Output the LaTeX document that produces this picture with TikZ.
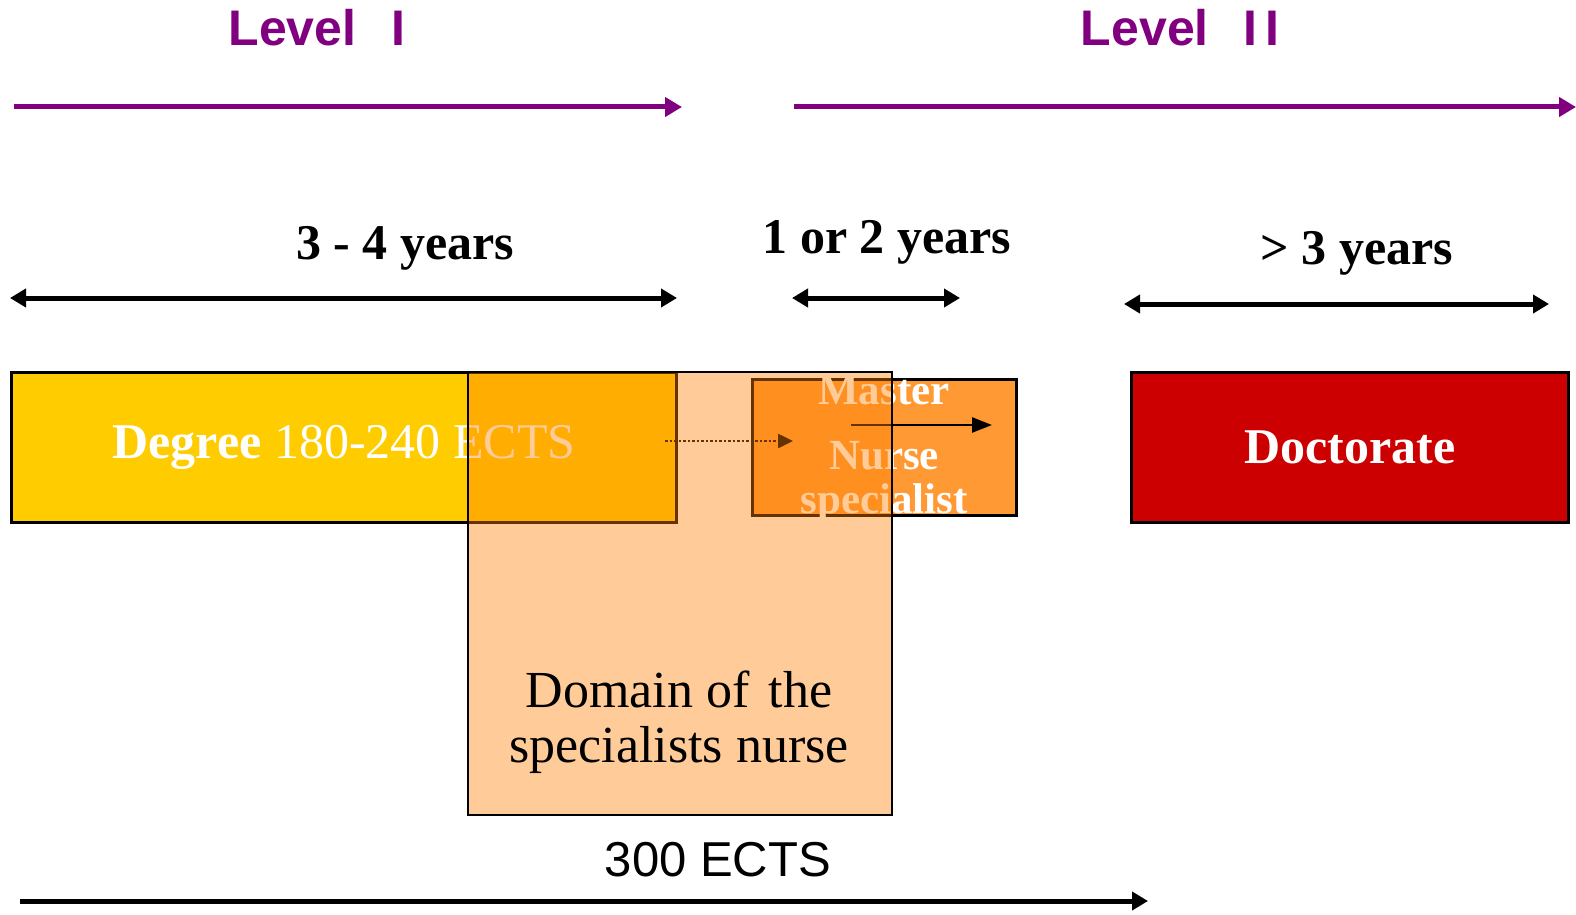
\documentclass[tikz,border=0pt]{standalone}
\usepackage{fontspec}
\setmainfont{Liberation Serif}
\setsansfont{Liberation Sans}
\usetikzlibrary{arrows.meta}
\definecolor{levelpurple}{RGB}{128,0,128}
\definecolor{degreeyellow}{RGB}{255,204,0}
\definecolor{masterorange}{RGB}{255,153,51}
\definecolor{domainorange}{RGB}{255,128,0}
\definecolor{doctorred}{RGB}{204,0,0}
\tikzstyle{every node}=[inner sep=0pt]
\tikzstyle{level}=[font=\sffamily\bfseries\fontsize{50}{54}\selectfont,text=levelpurple]
\tikzstyle{span}=[font=\bfseries\fontsize{50}{54}\selectfont]
\tikzstyle{stage}=[draw=black,line width=3pt,anchor=north west,text=white,font=\fontsize{50}{54}\selectfont]
\tikzstyle{mastertext}=[text=white,font=\bfseries\fontsize{43}{44}\selectfont,align=center]
\tikzstyle{levelarrow}=[draw=levelpurple,line width=5pt,-{Triangle[length=17pt,width=19pt]}]
\tikzstyle{yeararrow}=[line width=5pt,{Triangle[length=16pt,width=18pt]}-{Triangle[length=16pt,width=18pt]}]
\tikzstyle{ectsarrow}=[line width=5pt,-{Triangle[length=16pt,width=18pt]}]

\begin{document}
\begin{tikzpicture}[x=1pt,y=-1pt]
\useasboundingbox (0,0) rectangle (1576,915);
\coordinate (levelIstart) at (14,107);
\coordinate (levelIend) at (682,107);
\coordinate (levelIIstart) at (794,107);
\coordinate (levelIIend) at (1576,107);
\coordinate (degreeleft) at (10,298);
\coordinate (degreeright) at (677,298);
\coordinate (masterleft) at (792,298);
\coordinate (masterright) at (960,298);
\coordinate (doctorleft) at (1124,304);
\coordinate (doctorright) at (1549,304);
\coordinate (ectsstart) at (20,901);
\coordinate (ectsend) at (1148,901);
\coordinate (dotstart) at (665,441);
\coordinate (dotend) at (793,441);
\coordinate (pathstart) at (851,425);
\coordinate (pathend) at (992,425);

\node[level] (levelI) at (317,28) {Level\hspace{0.7em}I};
\node[level] (levelII) at (1180,28) {Level\hspace{0.7em}I\hspace{0.15em}I};
\draw[levelarrow] (levelIstart) -- (levelIend);
\draw[levelarrow] (levelIIstart) -- (levelIIend);

\node[span] (bachelorspan) at (405,248) {3 - 4 years};
\node[span] (masterspan) at (887,242) {1 or 2 years};
\node[span] (doctorspan) at (1357,253) {> 3 years};
\draw[yeararrow] (degreeleft) -- (degreeright);
\draw[yeararrow] (masterleft) -- (masterright);
\draw[yeararrow] (doctorleft) -- (doctorright);

\node[stage,fill=degreeyellow,minimum width=665pt,minimum height=150pt] (degree) at (10,371) {{\bfseries Degree} 180-240 ECTS};
\node[stage,fill=masterorange,minimum width=264pt,minimum height=136pt] (master) at (751,378) {};
\node[stage,fill=doctorred,minimum width=437pt,minimum height=150pt] (doctorate) at (1130,371) {\bfseries Doctorate};
\node[mastertext] (mastertitle) at (884,391) {Master};
\node[mastertext] (nursespec) at (884,482) {Nurse\\specialist};
\draw[dotted,line width=2.5pt,-{Triangle[length=15pt,width=14pt]}] (dotstart) -- (dotend);
\draw[line width=2.5pt,-{Triangle[length=20pt,width=15pt]}] (pathstart) -- (pathend);

\node[draw=black,line width=2pt,fill=domainorange,fill opacity=0.4,text opacity=1,anchor=north west,minimum width=424pt,minimum height=443pt] (domain) at (467,371) {};
\node[font=\fontsize{52}{55}\selectfont,align=center] (domaintext) at (679,722) {Domain of\hspace{0.12em} the\\specialists nurse};

\node[font=\sffamily\fontsize{49}{52}\selectfont] (ects) at (718,860) {300 ECTS};
\draw[ectsarrow] (ectsstart) -- (ectsend);
\end{tikzpicture}
\end{document}
